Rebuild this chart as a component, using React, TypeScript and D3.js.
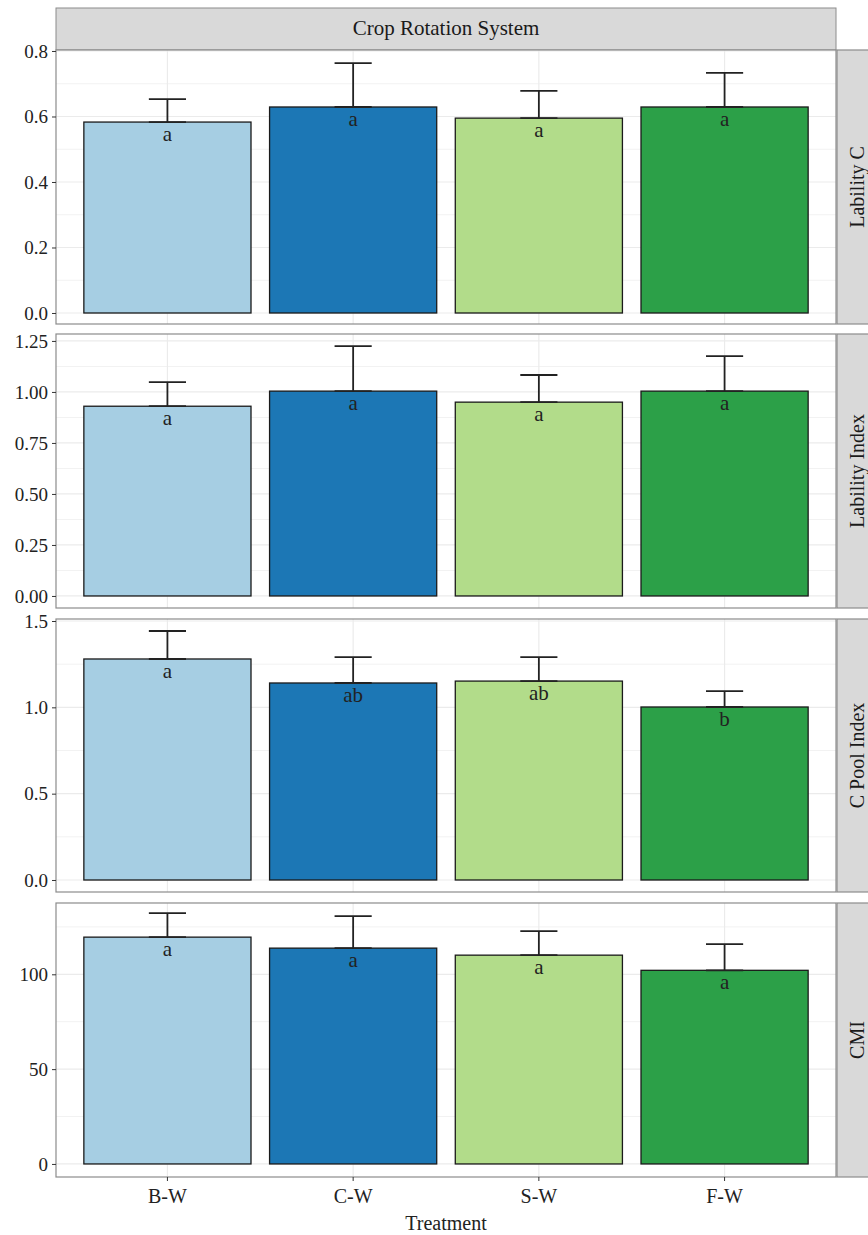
import React, { useRef, useEffect } from "react";
import * as d3 from "d3";

// treatments and colours
const treatments = ["B-W", "C-W", "S-W", "F-W"];
const colors = ["#a6cee3", "#1c77b5", "#b2dc8a", "#2ca048"];

// panel names (right strips)
const panelNames = ["Lability C", "Lability Index", "C Pool Index", "CMI"];

// means and upper error limits
const labilityC = [0.583, 0.629, 0.595, 0.629];
const labilityCErr = [0.653, 0.763, 0.678, 0.733];
const labilityIndex = [0.93, 1.004, 0.95, 1.004];
const labilityIndexErr = [1.048, 1.225, 1.083, 1.176];
const cPoolIndex = [1.28, 1.141, 1.152, 1.002];
const cPoolIndexErr = [1.442, 1.291, 1.291, 1.094];
const cmi = [119.6, 113.8, 110.1, 102.1];
const cmiErr = [132.3, 130.7, 122.8, 115.9];

// significance letters
const lettersLC = ["a", "a", "a", "a"];
const lettersLI = ["a", "a", "a", "a"];
const lettersCPI = ["a", "ab", "ab", "b"];
const lettersCMI = ["a", "a", "a", "a"];

// y ticks per panel
const ticksLC = [0, 0.2, 0.4, 0.6, 0.8];
const ticksLI = [0, 0.25, 0.5, 0.75, 1.0, 1.25];
const ticksCPI = [0, 0.5, 1.0, 1.5];
const ticksCMI = [0, 50, 100];

const App = () => {
	const svgRef = useRef(null);
	const width = 868;
	const height = 1235;

	useEffect(() => {
		const svg = d3.select(svgRef.current);
		svg.selectAll("*").remove();

		const font = "'Liberation Serif', 'DejaVu Serif', serif";
		const left = 56;
		const right = 836;

		const panels = [
			{ name: panelNames[0], vals: labilityC, err: labilityCErr, letters: lettersLC, ticks: ticksLC, fmt: d3.format(".1f"), top: 50, bottom: 324, domain: [-0.0336, 0.803] },
			{ name: panelNames[1], vals: labilityIndex, err: labilityIndexErr, letters: lettersLI, ticks: ticksLI, fmt: d3.format(".2f"), top: 334, bottom: 608, domain: [-0.059, 1.284] },
			{ name: panelNames[2], vals: cPoolIndex, err: cPoolIndexErr, letters: lettersCPI, ticks: ticksCPI, fmt: d3.format(".1f"), top: 619, bottom: 892, domain: [-0.0695, 1.5116] },
			{ name: panelNames[3], vals: cmi, err: cmiErr, letters: lettersCMI, ticks: ticksCMI, fmt: d3.format("d"), top: 903, bottom: 1177, domain: [-6.88, 137.6] },
		];

		// discrete x scale with ggplot-style 0.6 expansion
		const unit = (right - left) / 4.2;
		const xc = (i) => left + unit * (0.6 + i);
		const barW = unit * 0.9;
		const capW = unit * 0.2;

		// top strip
		svg.append("rect")
			.attr("x", left).attr("y", 8).attr("width", right - left).attr("height", 42)
			.attr("fill", "#d9d9d9").attr("stroke", "#8c8c8c").attr("stroke-width", 1);
		svg.append("text")
			.attr("x", (left + right) / 2).attr("y", 35)
			.attr("text-anchor", "middle").attr("font-family", font).attr("font-size", 21)
			.attr("fill", "#1a1a1a").text("Crop Rotation System");

		panels.forEach((p) => {
			const y = d3.scaleLinear().domain(p.domain).range([p.bottom, p.top]);
			const g = svg.append("g");

			g.append("rect")
				.attr("x", left).attr("y", p.top).attr("width", right - left).attr("height", p.bottom - p.top)
				.attr("fill", "white");

			// minor grid
			const minor = [];
			for (let i = 0; i < p.ticks.length - 1; i++) minor.push((p.ticks[i] + p.ticks[i + 1]) / 2);
			const step = p.ticks[1] - p.ticks[0];
			const extra = p.ticks[p.ticks.length - 1] + step / 2;
			if (extra < p.domain[1]) minor.push(extra);
			g.selectAll("line.minor").data(minor).join("line")
				.attr("x1", left).attr("x2", right)
				.attr("y1", d => y(d)).attr("y2", d => y(d))
				.attr("stroke", "#f2f2f2").attr("stroke-width", 1);
			// major grid
			g.selectAll("line.major").data(p.ticks).join("line")
				.attr("x1", left).attr("x2", right)
				.attr("y1", d => y(d)).attr("y2", d => y(d))
				.attr("stroke", "#ebebeb").attr("stroke-width", 1.2);
			g.selectAll("line.vgrid").data(treatments).join("line")
				.attr("x1", (d, i) => xc(i)).attr("x2", (d, i) => xc(i))
				.attr("y1", p.top).attr("y2", p.bottom)
				.attr("stroke", "#ebebeb").attr("stroke-width", 1.2);

			// bars
			g.selectAll("rect.bar").data(p.vals).join("rect")
				.attr("x", (d, i) => xc(i) - barW / 2)
				.attr("width", barW)
				.attr("y", d => y(d))
				.attr("height", d => y(0) - y(d))
				.attr("fill", (d, i) => colors[i])
				.attr("stroke", "#1a1a1a").attr("stroke-width", 1.3);

			// error bars
			p.vals.forEach((v, i) => {
				const cx = xc(i);
				const eg = g.append("g").attr("stroke", "#222").attr("stroke-width", 1.8);
				eg.append("line").attr("x1", cx).attr("x2", cx).attr("y1", y(v)).attr("y2", y(p.err[i]));
				eg.append("line").attr("x1", cx - capW / 2).attr("x2", cx + capW / 2).attr("y1", y(p.err[i])).attr("y2", y(p.err[i]));
				eg.append("line").attr("x1", cx - capW / 2).attr("x2", cx + capW / 2).attr("y1", y(v)).attr("y2", y(v));
			});

			// letters
			g.selectAll("text.letter").data(p.letters).join("text")
				.attr("x", (d, i) => xc(i))
				.attr("y", (d, i) => y(p.vals[i]) + 19)
				.attr("text-anchor", "middle").attr("font-family", font).attr("font-size", 21)
				.attr("fill", "#222").text(d => d);

			// panel border
			g.append("rect")
				.attr("x", left).attr("y", p.top).attr("width", right - left).attr("height", p.bottom - p.top)
				.attr("fill", "none").attr("stroke", "#8c8c8c").attr("stroke-width", 1.2);

			// y axis
			const yAxis = d3.axisLeft(y).tickValues(p.ticks).tickFormat(p.fmt).tickSize(4).tickPadding(4);
			const ax = g.append("g").attr("transform", `translate(${left},0)`).call(yAxis);
			ax.select(".domain").remove();
			ax.selectAll("line").attr("stroke", "#333");
			ax.selectAll("text").attr("font-family", font).attr("font-size", 19).attr("fill", "#222");

			// right strip
			g.append("rect")
				.attr("x", right + 1).attr("y", p.top).attr("width", 40).attr("height", p.bottom - p.top)
				.attr("fill", "#d9d9d9").attr("stroke", "#8c8c8c").attr("stroke-width", 1.2);
			g.append("text")
				.attr("transform", `translate(${right + 28},${(p.top + p.bottom) / 2}) rotate(-90)`)
				.attr("text-anchor", "middle").attr("font-family", font).attr("font-size", 20)
				.attr("fill", "#1a1a1a").text(p.name);

			// x axis on the last panel
			if (p === panels[panels.length - 1]) {
				const xg = svg.append("g");
				xg.selectAll("line").data(treatments).join("line")
					.attr("x1", (d, i) => xc(i)).attr("x2", (d, i) => xc(i))
					.attr("y1", p.bottom).attr("y2", p.bottom + 4)
					.attr("stroke", "#333");
				xg.selectAll("text").data(treatments).join("text")
					.attr("x", (d, i) => xc(i)).attr("y", p.bottom + 26)
					.attr("text-anchor", "middle").attr("font-family", font).attr("font-size", 20)
					.attr("fill", "#222").text(d => d);
			}
		});

		svg.append("text")
			.attr("x", (left + right) / 2).attr("y", 1230)
			.attr("text-anchor", "middle").attr("font-family", font).attr("font-size", 20)
			.attr("fill", "#222").text("Treatment");
	}, []);

	return (
		<svg ref={svgRef} width={width} height={height}
			style={{ position: "absolute", top: 0, left: 0, display: "block" }}></svg>
	);
};

export default App;
